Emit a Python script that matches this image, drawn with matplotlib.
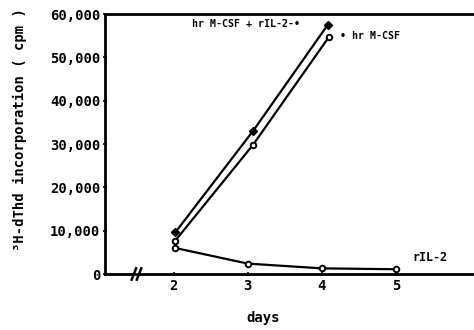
import matplotlib

matplotlib.use("Agg")
import matplotlib.pyplot as plt

# values
days_combo = [2.02, 3.07, 4.08]
cpm_combo = [9600, 33000, 57500]      # hr M-CSF + rIL-2
days_mcsf = [2.02, 3.07, 4.1]
cpm_mcsf = [7700, 29800, 54800]       # hr M-CSF
days_il2 = [2.02, 3.0, 4.0, 5.0]
cpm_il2 = [6000, 2400, 1300, 1100]    # rIL-2

yticks = [0, 10000, 20000, 30000, 40000, 50000, 60000]
ytick_labels = ["0", "10,000", "20,000", "30,000", "40,000", "50,000", "60,000"]
xticks = [2, 3, 4, 5]

plt.rcParams["font.family"] = ["DejaVu Sans Mono"]
plt.rcParams["font.weight"] = "bold"

fig = plt.figure(figsize=(4.74, 3.30), dpi=100)
ax = fig.add_axes([105 / 474, 56 / 330, 380 / 474, 260 / 330])

ax.plot(days_combo, cpm_combo, color="black", lw=1.6, marker="D", ms=4,
        mfc="black", mec="black")
ax.plot(days_mcsf, cpm_mcsf, color="black", lw=1.6, marker="o", ms=4,
        mfc="white", mec="black", mew=1.4)
ax.plot(days_il2, cpm_il2, color="black", lw=1.6, marker="o", ms=4,
        mfc="white", mec="black", mew=1.4)

ax.set_xlim(1.07, 1.07 + 380 / 74)
ax.set_ylim(0, 60000)
ax.set_yticks(yticks)
ax.set_yticklabels(ytick_labels)
ax.set_xticks(xticks)
ax.tick_params(axis="both", direction="inout", length=3, width=1.2,
               labelsize=10, pad=2)

for side in ["left", "bottom", "top"]:
    ax.spines[side].set_linewidth(2)
ax.spines["right"].set_visible(False)

# axis break marks on the x axis
for xb in (1.46, 1.53):
    ax.plot([xb - 0.03, xb + 0.03], [-1300, 1300], color="black", lw=1.8,
            clip_on=False)

ax.text(2.25, 57700, "hr M-CSF + rIL-2-•", fontsize=7.2, va="center")
ax.text(4.25, 55000, "• hr M-CSF", fontsize=7.2, va="center")
ax.text(5.22, 3700, "rIL-2", fontsize=8.4, va="center")

fig.text(263 / 474, 1 - 318 / 330, "days", fontsize=10, ha="center", va="center",
         weight="bold")
fig.text(20 / 474, 1 - 130 / 330, "³H-dThd incorporation ( cpm )", fontsize=10,
         rotation=90, ha="center", va="center", weight="bold")

fig.savefig("out.png")
